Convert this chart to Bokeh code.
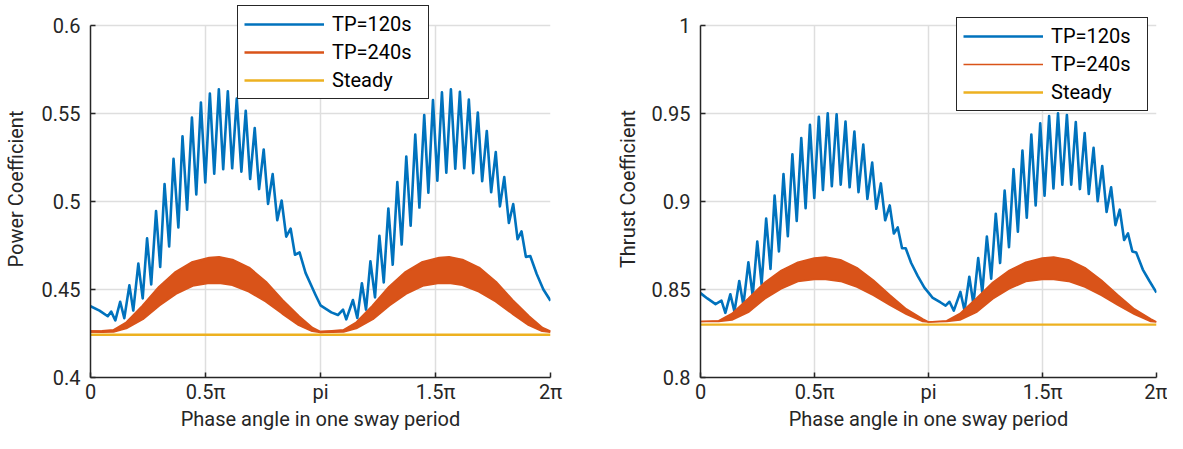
import numpy as np
from bokeh.plotting import figure
from bokeh.models import Range1d, FixedTicker, Legend, LegendItem, ColumnDataSource, Grid
from bokeh.layouts import row
from bokeh.embed import file_html
from bokeh.resources import INLINE

# ---------------- data ----------------
# x axis ticks (phase in units of pi)
x_tick_pos = [0, 0.5, 1, 1.5, 2]
x_tick_labels = ["0", "0.5π", "pi", "1.5π", "2π"]

series_names = ["TP=120s", "TP=240s", "Steady"]

# Power coefficient, TP=120s (phase / pi, value) read at peaks and troughs
cp120_phase = [0.000, 0.039, 0.075, 0.090, 0.108, 0.129, 0.147, 0.169, 0.186, 0.208,
               0.227, 0.246, 0.264, 0.285, 0.303, 0.322, 0.342, 0.361, 0.382, 0.400,
               0.420, 0.441, 0.460, 0.480, 0.499, 0.519, 0.538, 0.558, 0.577, 0.597,
               0.616, 0.636, 0.656, 0.675, 0.694, 0.714, 0.733, 0.753, 0.772, 0.792,
               0.812, 0.831, 0.851, 0.870, 0.889, 0.909, 0.935, 0.978, 1.000,
               1.047, 1.076, 1.098, 1.112, 1.141, 1.160, 1.180, 1.198, 1.217, 1.237,
               1.256, 1.275, 1.295, 1.314, 1.334, 1.353, 1.373, 1.392, 1.412, 1.430,
               1.451, 1.469, 1.489, 1.508, 1.528, 1.547, 1.567, 1.586, 1.606, 1.625,
               1.645, 1.664, 1.684, 1.703, 1.723, 1.742, 1.762, 1.780, 1.799, 1.819,
               1.838, 1.857, 1.874, 1.893, 1.912, 1.940, 1.969, 2.000]
cp120 = [0.4405, 0.4380, 0.4348, 0.4374, 0.4324, 0.4430, 0.4337, 0.4523, 0.4380, 0.4647,
         0.4449, 0.4790, 0.4529, 0.4945, 0.4628, 0.5098, 0.4744, 0.5242, 0.4852, 0.5369,
         0.4953, 0.5476, 0.5039, 0.5562, 0.5108, 0.5612, 0.5158, 0.5636, 0.5183, 0.5625,
         0.5188, 0.5584, 0.5169, 0.5515, 0.5127, 0.5416, 0.5070, 0.5295, 0.4986, 0.5155,
         0.4893, 0.5005, 0.4800, 0.4846, 0.4697, 0.4710, 0.4594, 0.4470, 0.4410,
         0.4370, 0.4355, 0.4385, 0.4330, 0.4440, 0.4338, 0.4535, 0.4385, 0.4660, 0.4455,
         0.4805, 0.4540, 0.4960, 0.4640, 0.5110, 0.4755, 0.5255, 0.4862, 0.5380, 0.4965,
         0.5490, 0.5050, 0.5575, 0.5118, 0.5620, 0.5163, 0.5636, 0.5186, 0.5622, 0.5188,
         0.5578, 0.5160, 0.5505, 0.5115, 0.5400, 0.5052, 0.5280, 0.4972, 0.5138, 0.4878,
         0.4985, 0.4785, 0.4830, 0.4685, 0.4690, 0.4588, 0.4500, 0.4436]

# Power coefficient, TP=240s: envelope of the fast oscillation (upper / lower)
cp240_phase = [0.00, 0.05, 0.10, 0.155, 0.227, 0.299, 0.371, 0.444, 0.516, 0.559, 0.617,
               0.689, 0.762, 0.834, 0.906, 0.964, 1.00,
               1.05, 1.10, 1.155, 1.227, 1.299, 1.371, 1.444, 1.516, 1.559, 1.617,
               1.689, 1.762, 1.834, 1.906, 1.964, 2.00]
cp240_upper = [0.4261, 0.4263, 0.4268, 0.4310, 0.4407, 0.4515, 0.4599, 0.4655, 0.4679, 0.4683, 0.4668,
               0.4623, 0.4543, 0.4440, 0.4347, 0.4282, 0.4258,
               0.4263, 0.4268, 0.4310, 0.4407, 0.4515, 0.4599, 0.4655, 0.4679, 0.4683, 0.4668,
               0.4623, 0.4543, 0.4440, 0.4347, 0.4282, 0.4260]
cp240_lower = [0.4261, 0.4260, 0.4261, 0.4280, 0.4332, 0.4410, 0.4476, 0.4522, 0.4537, 0.4537, 0.4526,
               0.4489, 0.4433, 0.4364, 0.4298, 0.4265, 0.4258,
               0.4260, 0.4261, 0.4280, 0.4332, 0.4410, 0.4476, 0.4522, 0.4537, 0.4537, 0.4526,
               0.4489, 0.4433, 0.4364, 0.4298, 0.4265, 0.4260]

steady_phase = [0.0, 2.0]
cp_steady = [0.4243, 0.4243]

# Thrust coefficient, TP=120s
ct120_phase = [0.000, 0.030, 0.066, 0.092, 0.109, 0.131, 0.149, 0.170, 0.188, 0.210,
               0.229, 0.249, 0.268, 0.288, 0.307, 0.325, 0.344, 0.364, 0.383, 0.403,
               0.422, 0.442, 0.461, 0.480, 0.499, 0.519, 0.537, 0.558, 0.576, 0.597,
               0.615, 0.636, 0.654, 0.675, 0.693, 0.714, 0.732, 0.753, 0.771, 0.791,
               0.810, 0.830, 0.848, 0.865, 0.884, 0.900, 0.924, 0.953, 0.982, 1.000,
               1.017, 1.053, 1.075, 1.092, 1.111, 1.140, 1.158, 1.179, 1.197, 1.218,
               1.236, 1.256, 1.275, 1.295, 1.314, 1.334, 1.353, 1.373, 1.392, 1.412,
               1.431, 1.451, 1.470, 1.490, 1.509, 1.529, 1.548, 1.568, 1.587, 1.607,
               1.626, 1.646, 1.664, 1.685, 1.703, 1.724, 1.742, 1.762, 1.781, 1.801,
               1.820, 1.839, 1.858, 1.875, 1.894, 1.911, 1.940, 1.969, 2.000]
ct120 = [0.8479, 0.8449, 0.8417, 0.8436, 0.8367, 0.8473, 0.8374, 0.8548, 0.8411, 0.8654,
         0.8464, 0.8772, 0.8529, 0.8902, 0.8617, 0.9033, 0.8716, 0.9155, 0.8803, 0.9267,
         0.8889, 0.9360, 0.8962, 0.9435, 0.9020, 0.9481, 0.9065, 0.9500, 0.9087, 0.9494,
         0.9095, 0.9453, 0.9080, 0.9397, 0.9052, 0.9323, 0.9014, 0.9220, 0.8958, 0.9102,
         0.8893, 0.8977, 0.8818, 0.8852, 0.8734, 0.8734, 0.8650, 0.8576, 0.8510, 0.8482,
         0.8454, 0.8426, 0.8408, 0.8430, 0.8380, 0.8486, 0.8380, 0.8572, 0.8417, 0.8678,
         0.8482, 0.8800, 0.8561, 0.8930, 0.8650, 0.9061, 0.8740, 0.9183, 0.8828, 0.9289,
         0.8908, 0.9379, 0.8977, 0.9444, 0.9033, 0.9485, 0.9074, 0.9500, 0.9095, 0.9491,
         0.9095, 0.9450, 0.9070, 0.9388, 0.9042, 0.9304, 0.9001, 0.9201, 0.8940, 0.9080,
         0.8865, 0.8953, 0.8781, 0.8818, 0.8716, 0.8710, 0.8613, 0.8548, 0.8482]

# Thrust coefficient, TP=240s envelope
ct240_phase = [0.00, 0.08, 0.138, 0.21, 0.282, 0.354, 0.427, 0.499, 0.549, 0.614,
               0.686, 0.758, 0.830, 0.903, 0.975, 1.00,
               1.08, 1.138, 1.21, 1.282, 1.354, 1.427, 1.499, 1.549, 1.614,
               1.686, 1.758, 1.830, 1.903, 1.975, 2.00]
ct240_upper = [0.8318, 0.8322, 0.8363, 0.8450, 0.8540, 0.8608, 0.8655, 0.8678, 0.8684, 0.8669,
               0.8624, 0.8553, 0.8469, 0.8389, 0.8333, 0.8315,
               0.8322, 0.8363, 0.8450, 0.8540, 0.8608, 0.8655, 0.8678, 0.8684, 0.8669,
               0.8624, 0.8553, 0.8469, 0.8389, 0.8333, 0.8316]
ct240_lower = [0.8318, 0.8318, 0.8327, 0.8370, 0.8447, 0.8504, 0.8545, 0.8557, 0.8557, 0.8546,
               0.8514, 0.8467, 0.8411, 0.8359, 0.8318, 0.8315,
               0.8318, 0.8327, 0.8370, 0.8447, 0.8504, 0.8545, 0.8557, 0.8557, 0.8546,
               0.8514, 0.8467, 0.8411, 0.8359, 0.8318, 0.8316]

ct_steady = [0.8300, 0.8300]

cp_yticks = [0.4, 0.45, 0.5, 0.55, 0.6]
cp_ylabels = ["0.4", "0.45", "0.5", "0.55", "0.6"]
ct_yticks = [0.8, 0.85, 0.9, 0.95, 1.0]
ct_ylabels = ["0.8", "0.85", "0.9", "0.95", "1"]

# ---------------- styling ----------------
BLUE = "#0072BD"
ORANGE = "#D95319"
YELLOW = "#EDB120"
DARK = "#262626"
GRID = "#dedede"
FONT = "Roboto"

FIG_H = 433
FRAME_H = 380          # expected frame height (canvas top down to the x axis)
TOP_GAP = 25           # room above the y axis end, used by the legend
HAS_CROSS = "cross_bounds" in Grid.properties()


def make_panel(ylabel, yrange, yticks, ylabels, b_ph, b_v, o_ph, o_up, o_lo, s_v,
               legend_loc, width, min_left, min_right, label_standoff, orange_w):
    y0, y1 = yrange
    ytop = y1 + (y1 - y0) * TOP_GAP / (FRAME_H - TOP_GAP)
    p = figure(width=width, height=FIG_H, output_backend="svg", toolbar_location=None,
               x_range=Range1d(0, 2 * np.pi), y_range=Range1d(y0, ytop),
               min_border_left=min_left, min_border_right=min_right,
               min_border_top=0, min_border_bottom=30)
    p.outline_line_color = None
    p.background_fill_color = "white"

    xt = [v * np.pi for v in x_tick_pos]
    p.xaxis.ticker = FixedTicker(ticks=xt)
    p.xaxis.major_label_overrides = {t: lab for t, lab in zip(xt, x_tick_labels)}
    p.yaxis.ticker = FixedTicker(ticks=yticks)
    p.yaxis.major_label_overrides = {t: lab for t, lab in zip(yticks, ylabels)}
    p.yaxis.bounds = (y0, y1)
    p.xgrid.ticker = FixedTicker(ticks=xt)
    p.ygrid.ticker = FixedTicker(ticks=yticks)
    if HAS_CROSS:
        p.xgrid.cross_bounds = (y0, y1)

    for ax in (p.xaxis[0], p.yaxis[0]):
        ax.axis_line_color = DARK
        ax.axis_line_width = 1.5
        ax.major_tick_line_color = DARK
        ax.major_tick_line_width = 1.5
        ax.major_tick_in = 5
        ax.major_tick_out = 0
        ax.minor_tick_line_color = None
        ax.major_label_text_font = FONT
        ax.major_label_text_font_size = "20px"
        ax.major_label_text_color = DARK
        ax.axis_label_text_font = FONT
        ax.axis_label_text_font_size = "20px"
        ax.axis_label_text_font_style = "normal"
        ax.axis_label_text_color = DARK
    p.xaxis.axis_label = "Phase angle in one sway period"
    p.yaxis.axis_label = ylabel
    p.xaxis.major_label_standoff = 2
    p.xaxis.axis_label_standoff = 0
    p.yaxis.major_label_standoff = 10
    p.yaxis.axis_label_standoff = label_standoff

    for g in (p.xgrid[0], p.ygrid[0]):
        g.grid_line_color = GRID
        g.grid_line_width = 1.5

    bsrc = ColumnDataSource(dict(x=np.array(b_ph) * np.pi, y=b_v))
    osrc = ColumnDataSource(dict(x=np.array(o_ph) * np.pi, up=o_up, lo=o_lo))
    ssrc = ColumnDataSource(dict(x=np.array(steady_phase) * np.pi, y=s_v))

    rb = p.line("x", "y", source=bsrc, line_color=BLUE, line_width=2.6, line_join="round")
    p.varea(x="x", y1="lo", y2="up", source=osrc, fill_color=ORANGE, fill_alpha=1.0)
    ro = p.line("x", "up", source=osrc, line_color=ORANGE, line_width=orange_w)
    p.line("x", "lo", source=osrc, line_color=ORANGE, line_width=orange_w)
    rs = p.line("x", "y", source=ssrc, line_color=YELLOW, line_width=2.4)

    legend = Legend(items=[LegendItem(label=series_names[0], renderers=[rb]),
                           LegendItem(label=series_names[1], renderers=[ro]),
                           LegendItem(label=series_names[2], renderers=[rs])],
                    location=legend_loc)
    legend.glyph_width = 80
    legend.glyph_height = 20
    legend.label_standoff = 8
    legend.label_width = 90
    legend.label_height = 20
    legend.padding = 6
    legend.spacing = 4
    legend.margin = 0
    legend.label_text_font = FONT
    legend.label_text_font_size = "20px"
    legend.label_text_color = "black"
    legend.border_line_color = DARK
    legend.border_line_width = 1.5
    legend.border_line_alpha = 1
    legend.background_fill_alpha = 1
    p.add_layout(legend)
    return p


p1 = make_panel("Power Coefficient", (0.4, 0.6), cp_yticks, cp_ylabels,
                cp120_phase, cp120, cp240_phase, cp240_upper, cp240_lower, cp_steady,
                (147, 278), 602, 88, 52, 11, 2.4)
p2 = make_panel("Thrust Coefficient", (0.8, 1.0), ct_yticks, ct_ylabels,
                ct120_phase, ct120, ct240_phase, ct240_upper, ct240_lower, ct_steady,
                (256, 266), 565, 98, 11, 9, 1.6)

layout = row(p1, p2)
open("out.html", "w").write(file_html(layout, INLINE))
